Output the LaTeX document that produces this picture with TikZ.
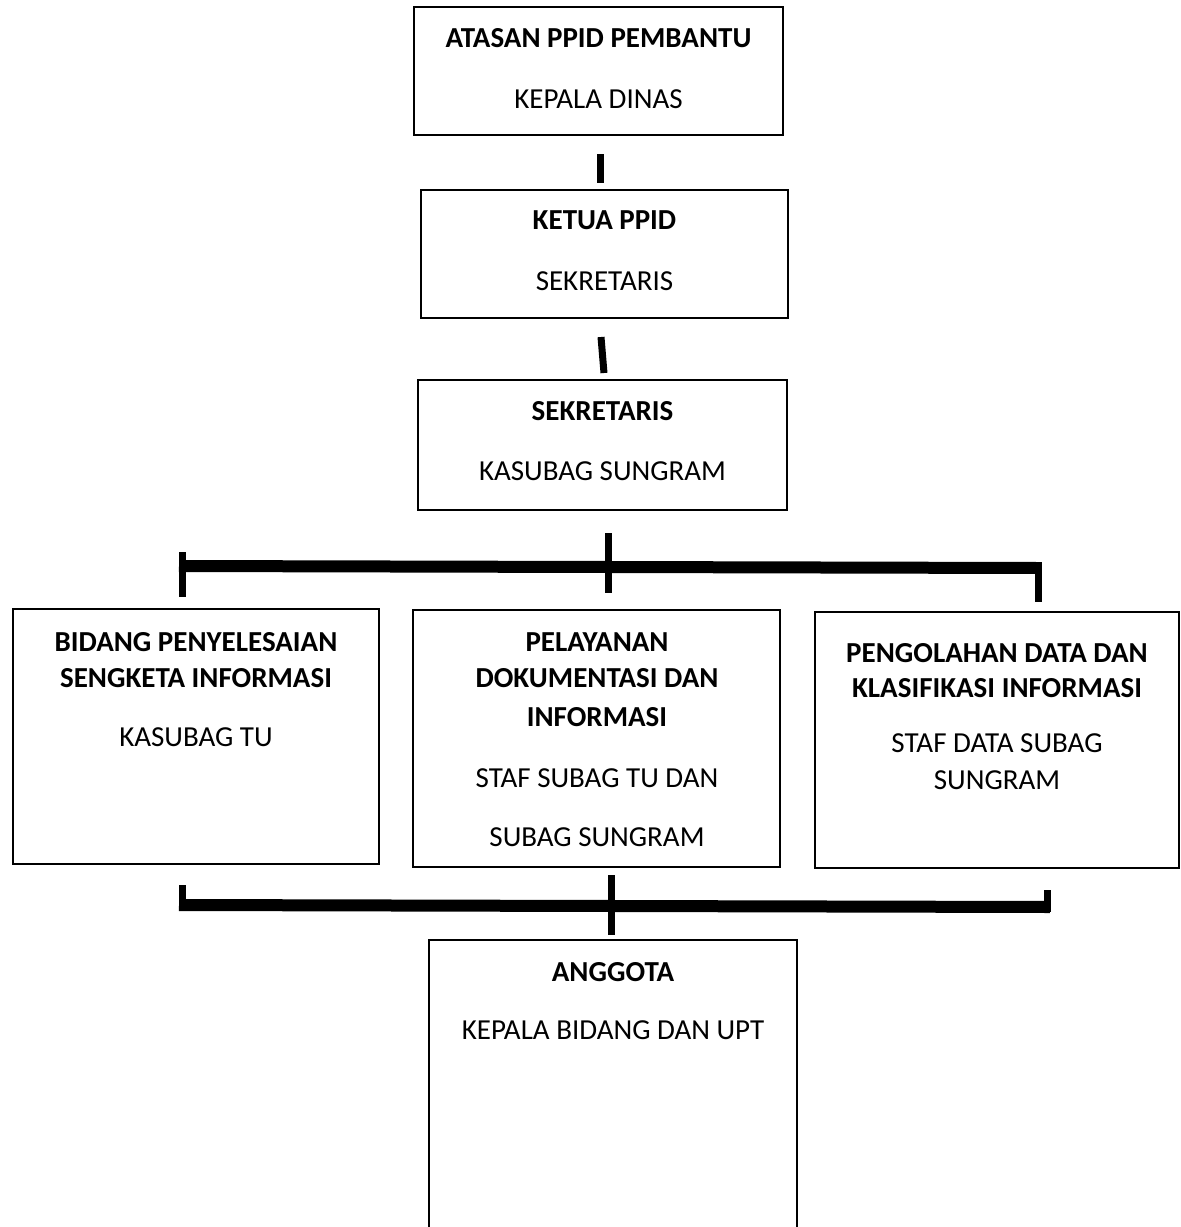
\documentclass[tikz,border=0pt]{standalone}
\usepackage{fontspec}
\setmainfont{Carlito}
\begin{document}
\begin{tikzpicture}[x=1pt,y=-1pt,
  box/.style={draw=black,line width=2.6pt,inner sep=0pt,fill=none},
  bt/.style={font=\fontsize{29}{35}\selectfont\bfseries,anchor=base,inner sep=0pt},
  rt/.style={font=\fontsize{29}{35}\selectfont,anchor=base,inner sep=0pt},
  conn/.style={line width=7pt,line cap=butt},
  bar/.style={line width=12pt,line cap=butt}]
\useasboundingbox (0,0) rectangle (1181,1227);
\clip (0,0) rectangle (1181,1227);
% boxes
\draw[box] (414,7) rectangle (783,135);
\node[bt] (t1a) at (598.5,47) {ATASAN PPID PEMBANTU};
\node[rt] (t1b) at (598.5,108) {KEPALA DINAS};
\draw[box] (421,190) rectangle (788,318);
\node[bt] (t2a) at (604.5,229) {KETUA PPID};
\node[rt] (t2b) at (604.5,290) {SEKRETARIS};
\draw[box] (418,380) rectangle (787,510);
\node[bt] (t3a) at (602.5,420) {SEKRETARIS};
\node[rt] (t3b) at (602.5,480) {KASUBAG SUNGRAM};
% connectors top
\coordinate (c1a) at (600,154); \coordinate (c1b) at (600,183);
\draw[conn] (c1a) -- (c1b);
\coordinate (c2a) at (601,337); \coordinate (c2b) at (604,373);
\draw[conn] (c2a) -- (c2b);
% top bar
\coordinate (bl) at (179,566); \coordinate (br) at (1040,568);
\draw[bar] (bl) -- (br);
\draw[conn] (182,552) -- (182,597);
\draw[conn] (608,533) -- (608,593);
\draw[conn] (1038,562) -- (1038,602);
% lower boxes
\draw[box] (13,609) rectangle (379,864);
\node[bt] (l1) at (196,651) {BIDANG PENYELESAIAN};
\node[bt] (l2) at (196,687) {SENGKETA INFORMASI};
\node[rt] (l3) at (196,746) {KASUBAG TU};
\draw[box] (413,610) rectangle (780,867);
\node[bt] (m1) at (597,651) {PELAYANAN};
\node[bt] (m2) at (597,687) {DOKUMENTASI DAN};
\node[bt] (m3) at (597,726) {INFORMASI};
\node[rt] (m4) at (597,787) {STAF SUBAG TU DAN};
\node[rt] (m5) at (597,846) {SUBAG SUNGRAM};
\draw[box] (815,612) rectangle (1179,868);
\node[bt] (r1) at (997,662) {PENGOLAHAN DATA DAN};
\node[bt] (r2) at (997,697) {KLASIFIKASI INFORMASI};
\node[rt] (r3) at (997,752) {STAF DATA SUBAG};
\node[rt] (r4) at (997,789) {SUNGRAM};
% bottom bar
\draw[bar] (179,905) -- (1050,907);
\draw[conn] (182,885) -- (182,910);
\draw[conn] (611,875) -- (611,935);
\draw[conn] (1047,890) -- (1047,912);
% bottom box
\draw[box] (429,940) rectangle (797,1260);
\node[bt] (b1) at (613,981) {ANGGOTA};
\node[rt] (b2) at (613,1039) {KEPALA BIDANG DAN UPT};
\end{tikzpicture}
\end{document}
